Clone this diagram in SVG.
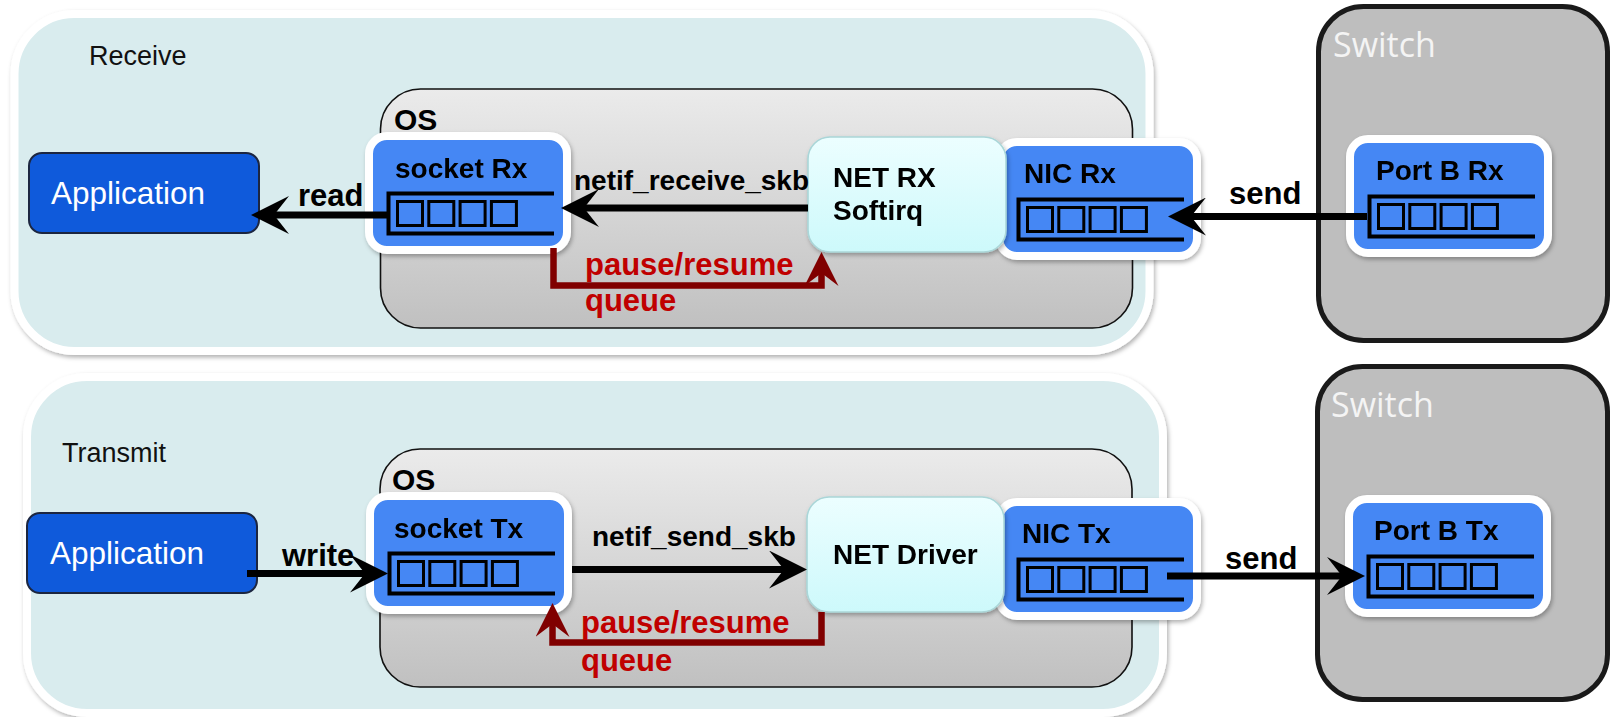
<svg xmlns="http://www.w3.org/2000/svg" xmlns:xlink="http://www.w3.org/1999/xlink" width="1612" height="717" viewBox="0 0 1612 717">
  <style>
    .panel { fill: #d9ecee; stroke: #ffffff; stroke-width: 8; }
    .panel-label { font-family: "Liberation Sans", Arial, sans-serif; font-size: 27px; fill: #111; }
    .os { fill: url(#osFill); stroke: #111; stroke-width: 1.6; }
    .os-label { font-family: "Liberation Sans", Arial, sans-serif; font-weight: bold; font-size: 30px; fill: #000; }
    .switch { fill: #bebebe; stroke: #1a1a1a; stroke-width: 5; }
    .switch-label { font-family: "Open Sans", "Liberation Sans", sans-serif; font-size: 34px; fill: #f4f4f4; }
    .app { fill: #0f5adb; stroke: #1c2640; stroke-width: 2; }
    .app-label { font-family: "Liberation Sans", Arial, sans-serif; font-size: 31.5px; fill: #ffffff; }
    .qnode { fill: #4487f4; stroke: #ffffff; stroke-width: 8; }
    .title { font-family: "Liberation Sans", Arial, sans-serif; font-weight: bold; font-size: 28px; fill: #000; }
    .proc { fill: url(#procFill); stroke: #aad6d8; stroke-width: 1.6; }
    .q-line { fill: none; stroke: #000; stroke-width: 4; }
    .q-slot { fill: none; stroke: #000; stroke-width: 3; }
    .flow { fill: none; stroke: #000; stroke-width: 7; marker-end: url(#head); }
    .ctl { fill: none; stroke: #800000; stroke-width: 6.5; stroke-linejoin: miter; marker-end: url(#headRed); }
    .lbl { font-family: "Liberation Sans", Arial, sans-serif; font-weight: bold; font-size: 31px; fill: #000; }
    .lbl-fn { font-family: "Liberation Sans", Arial, sans-serif; font-weight: bold; font-size: 28px; fill: #000; }
    .lbl-ctl { font-family: "Liberation Sans", Arial, sans-serif; font-weight: bold; font-size: 31px; fill: #c00000; }
  </style>
  <defs>
    <linearGradient id="osFill" x1="0" y1="0" x2="0" y2="1">
      <stop offset="0" stop-color="#ebebeb"/>
      <stop offset="1" stop-color="#c0c0c0"/>
    </linearGradient>
    <linearGradient id="procFill" x1="0" y1="0" x2="0" y2="1">
      <stop offset="0" stop-color="#ecfeff"/>
      <stop offset="1" stop-color="#cdf9fb"/>
    </linearGradient>
    <filter id="shadow" x="-10%" y="-10%" width="120%" height="130%">
      <feDropShadow dx="1.5" dy="2.5" stdDeviation="2" flood-color="#000" flood-opacity="0.3"/>
    </filter>
    <marker id="head" markerUnits="userSpaceOnUse" viewBox="0 -19 38 38" markerWidth="38" markerHeight="38" refX="15" refY="0" orient="auto">
      <path d="M38,0 L0,-19 L15,0 L0,19 Z" fill="#000"/>
    </marker>
    <marker id="headRed" markerUnits="userSpaceOnUse" viewBox="0 -17 34 34" markerWidth="34" markerHeight="34" refX="13" refY="0" orient="auto">
      <path d="M34,0 L0,-17 L13,0 L0,17 Z" fill="#800000"/>
    </marker>
    <!-- queue glyph drawn relative to the top-left of a blue node -->
    <g id="queue">
      <path class="q-line" d="M181,53.5 H15.5 V93.5 H181"/>
      <rect class="q-slot" x="24.5" y="61.5" width="25" height="24"/>
      <rect class="q-slot" x="55.8" y="61.5" width="25" height="24"/>
      <rect class="q-slot" x="87.1" y="61.5" width="25" height="24"/>
      <rect class="q-slot" x="118.4" y="61.5" width="25" height="24"/>
    </g>
  </defs>

  <rect width="1612" height="717" fill="#ffffff"/>

  <!-- Receive path -->
  <g id="receive-panel">
    <rect class="panel" x="14.5" y="14" width="1135" height="337" rx="60" filter="url(#shadow)"/>
    <text class="panel-label" x="89" y="65">Receive</text>
  </g>
  <g id="os-rx">
    <rect class="os" x="380.5" y="89" width="752" height="239" rx="40"/>
    <text class="os-label" x="394" y="130">OS</text>
  </g>
  <g id="switch-rx">
    <rect class="switch" x="1318.5" y="6.5" width="289" height="334" rx="45"/>
    <text class="switch-label" x="1333" y="57">Switch</text>
  </g>
  <g id="app-rx">
    <rect class="app" x="29" y="153" width="230" height="80" rx="13"/>
    <text class="app-label" x="51" y="204">Application</text>
  </g>
  <g id="socket-rx" transform="translate(373,140)" filter="url(#shadow)">
    <rect class="qnode" x="-4" y="-4" width="198" height="114" rx="18"/>
    <text class="title" x="22" y="38">socket Rx</text>
    <use xlink:href="#queue"/>
  </g>
  <g id="nic-rx" transform="translate(1003,146)" filter="url(#shadow)">
    <rect class="qnode" x="-4" y="-4" width="198" height="114" rx="18"/>
    <text class="title" x="21" y="37">NIC Rx</text>
    <use xlink:href="#queue"/>
  </g>
  <g id="net-rx-softirq" filter="url(#shadow)">
    <rect class="proc" x="808" y="137" width="198" height="115" rx="22"/>
    <text class="title" x="833" y="187">NET RX</text>
    <text class="title" x="833" y="220">Softirq</text>
  </g>
  <g id="port-b-rx" transform="translate(1354,143)" filter="url(#shadow)">
    <rect class="qnode" x="-4" y="-4" width="198" height="114" rx="18"/>
    <text class="title" x="22" y="37">Port B Rx</text>
    <use xlink:href="#queue"/>
  </g>

  <!-- Transmit path -->
  <g id="transmit-panel">
    <rect class="panel" x="27" y="377" width="1136" height="336" rx="60" filter="url(#shadow)"/>
    <text class="panel-label" x="62" y="462">Transmit</text>
  </g>
  <g id="os-tx">
    <rect class="os" x="380" y="449" width="752" height="238" rx="40"/>
    <text class="os-label" x="392" y="490">OS</text>
  </g>
  <g id="switch-tx">
    <rect class="switch" x="1317.5" y="366.5" width="290" height="333" rx="45"/>
    <text class="switch-label" x="1331" y="417">Switch</text>
  </g>
  <g id="app-tx">
    <rect class="app" x="27" y="513" width="230" height="80" rx="13"/>
    <text class="app-label" x="50" y="564">Application</text>
  </g>
  <g id="socket-tx" transform="translate(374,500)" filter="url(#shadow)">
    <rect class="qnode" x="-4" y="-4" width="198" height="114" rx="18"/>
    <text class="title" x="20" y="38">socket Tx</text>
    <use xlink:href="#queue"/>
  </g>
  <g id="nic-tx" transform="translate(1003,506)" filter="url(#shadow)">
    <rect class="qnode" x="-4" y="-4" width="198" height="114" rx="18"/>
    <text class="title" x="19" y="37">NIC Tx</text>
    <use xlink:href="#queue"/>
  </g>
  <g id="net-driver" filter="url(#shadow)">
    <rect class="proc" x="807" y="497" width="197" height="115" rx="22"/>
    <text class="title" x="833" y="564">NET Driver</text>
  </g>
  <g id="port-b-tx" transform="translate(1353,503)" filter="url(#shadow)">
    <rect class="qnode" x="-4" y="-4" width="198" height="114" rx="18"/>
    <text class="title" x="21" y="37">Port B Tx</text>
    <use xlink:href="#queue"/>
  </g>

  <!-- Connectors and their labels -->
  <g id="connectors">
    <path class="flow" d="M388,215 H274"/>
    <text class="lbl" x="298" y="206">read</text>

    <path class="flow" d="M808,208 H584"/>
    <text class="lbl-fn" x="574" y="190">netif_receive_skb</text>

    <path class="flow" d="M1367,216.5 H1191"/>
    <text class="lbl" x="1229" y="204">send</text>

    <path class="ctl" d="M553.5,248 V285.5 H821.5 V273"/>
    <text class="lbl-ctl" x="585" y="275">pause/resume</text>
    <text class="lbl-ctl" x="585" y="311">queue</text>

    <path class="flow" d="M247,573.5 H365"/>
    <text class="lbl" x="282" y="566">write</text>

    <path class="flow" d="M572,569.5 H784"/>
    <text class="lbl-fn" x="592" y="546">netif_send_skb</text>

    <path class="flow" d="M1167,576 H1342"/>
    <text class="lbl" x="1225" y="569">send</text>

    <path class="ctl" d="M821.5,612 V642.5 H552.5 V624"/>
    <text class="lbl-ctl" x="581" y="633">pause/resume</text>
    <text class="lbl-ctl" x="581" y="671">queue</text>
  </g>
</svg>
